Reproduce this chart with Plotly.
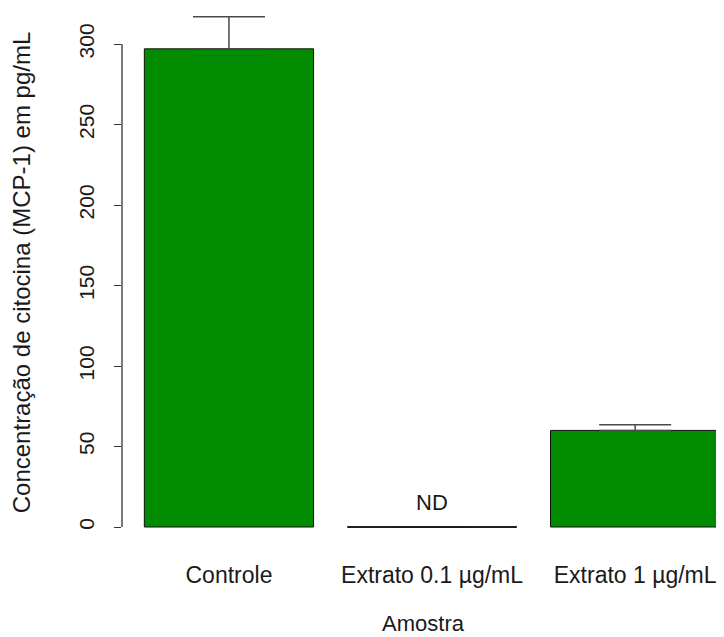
import plotly.graph_objects as go

categories = ["Controle", "Extrato 0.1 µg/mL", "Extrato 1 µg/mL"]
means = [297, 0, 60]
sds = [20, 0, 3.5]
bar_labels = ["", "ND", ""]
y_ticks = [0, 50, 100, 150, 200, 250, 300]

bar_width = 1.0
space = 0.2
centers = [space + bar_width / 2 + i * (bar_width + space) for i in range(len(categories))]

FONT = "Liberation Sans, Arial, sans-serif"
TXT = "#1a1a1a"
AX = "#333333"

fig = go.Figure()
fig.add_trace(go.Bar(
    x=centers, y=means, width=bar_width,
    marker=dict(color="#008B00", line=dict(color="#111111", width=1)),
    error_y=dict(type="data", symmetric=False, array=sds, arrayminus=[0] * len(sds),
                 color="#4a4a4a", thickness=1.5, width=36),
    showlegend=False, hoverinfo="skip",
))

# zero-valued bars are drawn by R as a flat outline at the baseline
for c, m in zip(centers, means):
    if m == 0:
        fig.add_trace(go.Scatter(x=[c - bar_width / 2, c + bar_width / 2], y=[m, m],
                                 mode="lines", line=dict(color="#111111", width=1.3),
                                 showlegend=False, hoverinfo="skip", cliponaxis=False))

for c, m, lab in zip(centers, means, bar_labels):
    if lab:
        fig.add_annotation(x=c, y=m, text=lab, showarrow=False, yanchor="bottom",
                           yshift=10, font=dict(family=FONT, size=22, color=TXT))

# R-style axis line spanning first to last tick
fig.add_shape(type="line", xref="paper", yref="y", x0=0, x1=0,
              y0=y_ticks[0], y1=y_ticks[-1], line=dict(color=AX, width=1.3))

px_per_unit = 483 / 300
plot_h = 529
lower = -10 / px_per_unit
upper = lower + plot_h / px_per_unit

fig.update_layout(
    width=724, height=637,
    margin=dict(l=114, r=8, t=0, b=108),
    plot_bgcolor="white", paper_bgcolor="white",
    font=dict(family=FONT, color=TXT),
    xaxis=dict(
        range=[0.068, 3.625], showgrid=False, zeroline=False, showline=False,
        tickvals=centers, ticktext=categories, ticks="",
        tickfont=dict(size=23, family=FONT, color=TXT),
        ticklabelstandoff=22,
        title=dict(text="Amostra", font=dict(size=22, family=FONT, color=TXT), standoff=28),
    ),
    yaxis=dict(
        range=[lower, upper], showgrid=False, zeroline=False, showline=False,
        tickvals=y_ticks, ticks="outside", ticklen=7, tickcolor=AX, tickwidth=1.3,
        tickangle=-90, tickfont=dict(size=21, family=FONT, color=TXT),
        ticklabelstandoff=12,
        title=dict(text="Concentração de citocina (MCP-1) em pg/mL",
                   font=dict(size=24, family=FONT, color=TXT), standoff=48),
    ),
)

fig.write_html("out.html")
